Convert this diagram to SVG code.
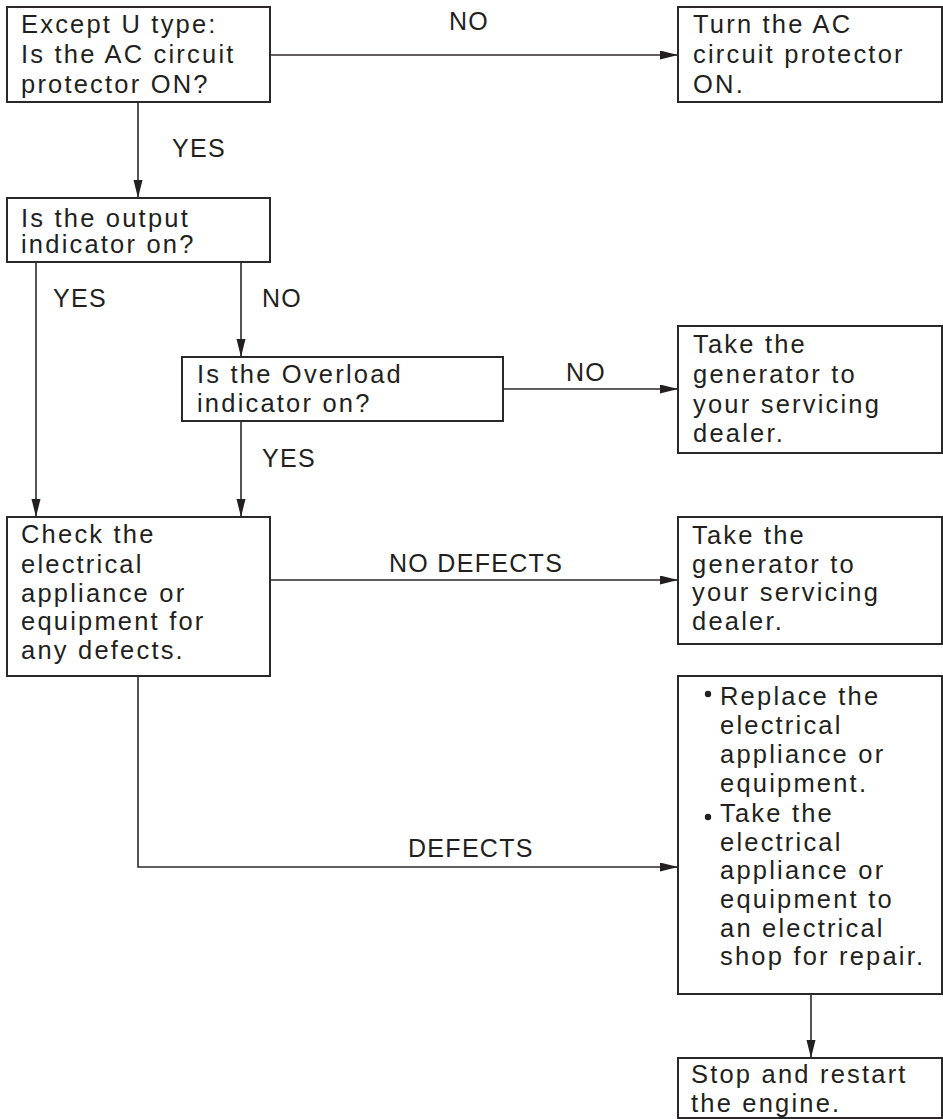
<svg xmlns="http://www.w3.org/2000/svg" width="943" height="1119" viewBox="0 0 943 1119">
<style>
  .box { fill: #fff; stroke: #2b2829; stroke-width: 2; }
  .t { font-family: "Liberation Sans", Arial, sans-serif; font-size: 25.5px; fill: #231f20; letter-spacing: 2.2px; }
  .lbl { font-family: "Liberation Sans", Arial, sans-serif; font-size: 25px; fill: #231f20; letter-spacing: 1.3px; }
  .c { fill: none; stroke: #2b2829; stroke-width: 1.6; }
</style>
<defs>
  <marker id="ah" markerUnits="userSpaceOnUse" markerWidth="18" markerHeight="10" refX="18" refY="4.5" orient="auto">
    <path d="M0,0 L18,4.5 L0,9 z" fill="#231f20"/>
  </marker>
</defs>

<g id="connectors">
  <line class="c" x1="270" y1="55" x2="678" y2="55" marker-end="url(#ah)"/>
  <line class="c" x1="138" y1="102" x2="138" y2="198" marker-end="url(#ah)"/>
  <line class="c" x1="36" y1="262" x2="36" y2="517" marker-end="url(#ah)"/>
  <line class="c" x1="241" y1="262" x2="241" y2="357" marker-end="url(#ah)"/>
  <line class="c" x1="503" y1="389" x2="678" y2="389" marker-end="url(#ah)"/>
  <line class="c" x1="241" y1="421" x2="241" y2="517" marker-end="url(#ah)"/>
  <line class="c" x1="270" y1="580" x2="678" y2="580" marker-end="url(#ah)"/>
  <path class="c" d="M138,676 V867 H678" marker-end="url(#ah)"/>
  <line class="c" x1="811" y1="994" x2="811" y2="1058" marker-end="url(#ah)"/>
  <text class="lbl" x="449" y="30">NO</text>
  <text class="lbl" x="172" y="157">YES</text>
  <text class="lbl" x="53" y="307">YES</text>
  <text class="lbl" x="262" y="307">NO</text>
  <text class="lbl" x="566" y="381">NO</text>
  <text class="lbl" x="262" y="467">YES</text>
  <text class="lbl" x="389" y="572">NO DEFECTS</text>
  <text class="lbl" x="408" y="857">DEFECTS</text>
</g>

<g id="q-ac-protector">
  <rect class="box" x="7" y="7" width="263" height="95"/>
  <text class="t" x="21" y="33">Except U type:</text>
  <text class="t" x="21" y="63">Is the AC circuit</text>
  <text class="t" x="21" y="93">protector ON?</text>
</g>

<g id="turn-ac-on">
  <rect class="box" x="678" y="7" width="264" height="95"/>
  <text class="t" x="693" y="33">Turn the AC</text>
  <text class="t" x="693" y="63">circuit protector</text>
  <text class="t" x="693" y="93">ON.</text>
</g>

<g id="q-output-indicator">
  <rect class="box" x="7" y="198" width="263" height="64"/>
  <text class="t" x="21" y="227">Is the output</text>
  <text class="t" x="21" y="253">indicator on?</text>
</g>

<g id="q-overload-indicator">
  <rect class="box" x="182" y="357" width="321" height="64"/>
  <text class="t" x="197" y="383">Is the Overload</text>
  <text class="t" x="197" y="412">indicator on?</text>
</g>

<g id="dealer-1">
  <rect class="box" x="678" y="326" width="264" height="127"/>
  <text class="t" x="693" y="353">Take the</text>
  <text class="t" x="693" y="383">generator to</text>
  <text class="t" x="693" y="413">your servicing</text>
  <text class="t" x="693" y="442">dealer.</text>
</g>

<g id="check-appliance">
  <rect class="box" x="7" y="517" width="263" height="159"/>
  <text class="t" x="21" y="543">Check the</text>
  <text class="t" x="21" y="573">electrical</text>
  <text class="t" x="21" y="602">appliance or</text>
  <text class="t" x="21" y="630">equipment for</text>
  <text class="t" x="21" y="659">any defects.</text>
</g>

<g id="dealer-2">
  <rect class="box" x="678" y="517" width="264" height="127"/>
  <text class="t" x="692" y="544">Take the</text>
  <text class="t" x="692" y="573">generator to</text>
  <text class="t" x="692" y="601">your servicing</text>
  <text class="t" x="692" y="630">dealer.</text>
</g>

<g id="replace-or-repair">
  <rect class="box" x="678" y="676" width="264" height="318"/>
  <circle cx="708" cy="694" r="3.2" fill="#231f20"/>
  <circle cx="708" cy="817" r="3.2" fill="#231f20"/>
  <text class="t" x="720" y="705">Replace the</text>
  <text class="t" x="720" y="734">electrical</text>
  <text class="t" x="720" y="763">appliance or</text>
  <text class="t" x="720" y="792">equipment.</text>
  <text class="t" x="720" y="822">Take the</text>
  <text class="t" x="720" y="851">electrical</text>
  <text class="t" x="720" y="879">appliance or</text>
  <text class="t" x="720" y="908">equipment to</text>
  <text class="t" x="720" y="937">an electrical</text>
  <text class="t" x="720" y="965">shop for repair.</text>
</g>

<g id="stop-restart">
  <rect class="box" x="678" y="1058" width="264" height="60"/>
  <text class="t" x="691" y="1083">Stop and restart</text>
  <text class="t" x="691" y="1112">the engine.</text>
</g>
</svg>
